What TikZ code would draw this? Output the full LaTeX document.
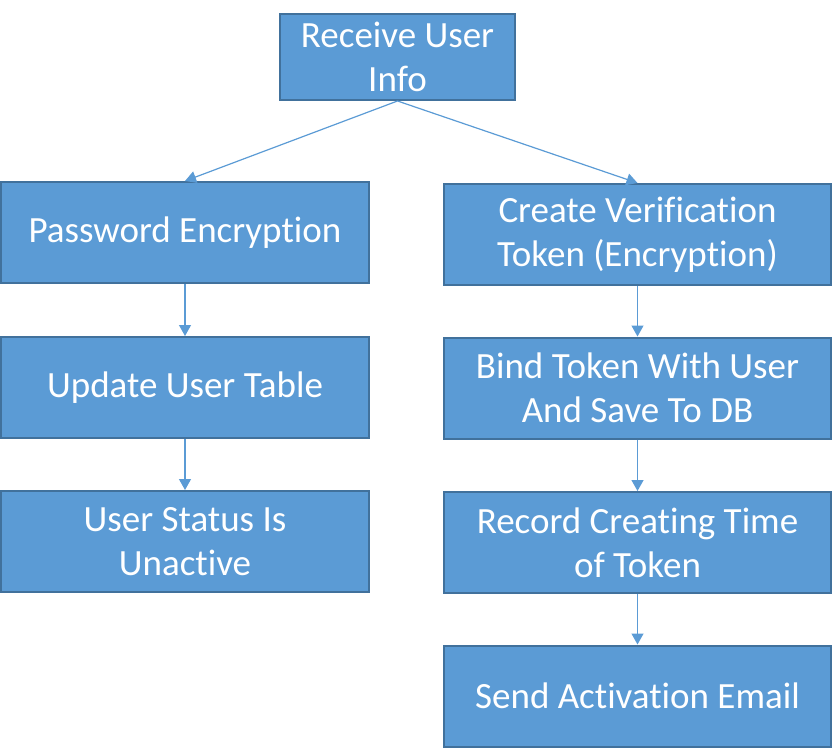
\documentclass[tikz,border=0pt]{standalone}
\usepackage{fontspec}
\setmainfont{Carlito}[RawFeature={-liga;-clig;-calt;-dlig;-ccmp;-rlig}]
\usetikzlibrary{arrows.meta}
\definecolor{boxfill}{HTML}{5B9BD5}
\definecolor{boxline}{HTML}{41719C}
\tikzset{
	flowbox/.style={draw=boxline, line width=1pt, fill=boxfill, text=white, align=center,
		inner sep=0pt, minimum height=50.5pt, font=\fontsize{18.5}{22}\selectfont},
	flowarrow/.style={draw=boxfill, line width=0.6pt, -{Triangle[width=6pt,length=5.5pt]}}
}

\begin{document}
\begin{tikzpicture}[x=0.5pt, y=-0.5pt]
			%%%%% START %%%%%
			\useasboundingbox (0, 0) rectangle (833, 748);
			
			\node[flowbox, minimum width=117.5pt, minimum height=43pt] (receive) at (397.5, 57) {Receive User\\Info};
			
			% left column
			\node[flowbox, minimum width=184pt] (password) at (185, 232.5) {Password Encryption};
			\node[flowbox, minimum width=184pt] (update) at (185, 387.5) {Update User Table};
			\node[flowbox, minimum width=184pt] (status) at (185, 541.5) {User Status Is\\Unactive};
			
			% right column
			\node[flowbox, minimum width=193.5pt] (token) at (637.5, 234.5) {Create Verification\\Token (Encryption)};
			\node[flowbox, minimum width=193.5pt] (bind) at (637.5, 388) {Bind Token With User\\And Save To DB};
			\node[flowbox, minimum width=193.5pt] (record) at (637.5, 542.5) {Record Creating Time\\of Token};
			\node[flowbox, minimum width=193.5pt] (send) at (637.5, 696) {Send Activation Email};
			
			\draw[flowarrow] (receive.south) -- (password.north);
			\draw[flowarrow] (receive.south) -- (token.north);
			\draw[flowarrow] (password) -- (update);
			\draw[flowarrow] (update) -- (status);
			\draw[flowarrow] (token) -- (bind);
			\draw[flowarrow] (bind) -- (record);
			\draw[flowarrow] (record) -- (send);
			
			%%%%% END %%%%%
\end{tikzpicture}
\end{document}
